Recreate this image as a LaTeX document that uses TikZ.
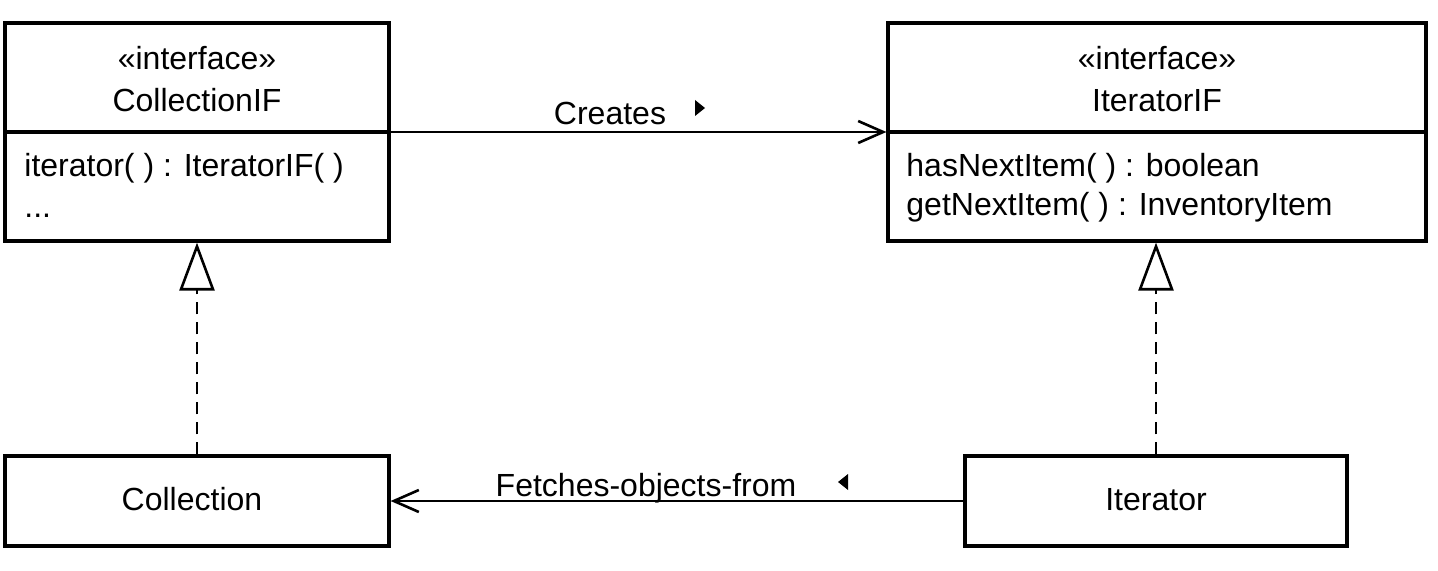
\documentclass[tikz,border=0pt]{standalone}
\usepackage{fontspec}
\setmainfont{Liberation Sans}
\usetikzlibrary{arrows.meta}
\begin{document}
\begin{tikzpicture}[x=0.5pt,y=-0.5pt,
  box/.style={draw, line width=1.6pt, inner sep=0pt},
  txt/.style={inner sep=0pt, anchor=base, font=\fontsize{16}{19}\selectfont},
  ltxt/.style={txt, anchor=base west},
  conn/.style={line width=1.3pt},
  assoc/.style={conn, -{Straight Barb[length=12.5pt,width=11pt,line width=1.3pt]}},
  realize/.style={conn, dash pattern=on 6pt off 4pt, -{Triangle[open,length=24pt,width=17.5pt,line width=1.3pt]}}]
\useasboundingbox (0,0) rectangle (1438,571);
% boxes
\node[box, minimum width=192pt, minimum height=109pt] (cif) at (197,132) {};
\node[box, minimum width=269pt, minimum height=109pt] (iif) at (1157,132) {};
\node[box, minimum width=192pt, minimum height=45pt] (col) at (197,501) {};
\node[box, minimum width=191pt, minimum height=45pt] (it) at (1156,501) {};
\draw[line width=1.6pt] (cif.west) -- (cif.east);
\draw[line width=1.6pt] (iif.west) -- (iif.east);
% texts
\node[txt] (cifs) at (197,70) {«interface»};
\node[txt] (cifn) at (197,112) {CollectionIF};
\node[ltxt] (cifo1) at (24,177) {iterator( ) : IteratorIF( )};
\node[ltxt] (cifo2) at (24,218) {...};
\node[txt] (iifs) at (1157,70) {«interface»};
\node[txt] (iifn) at (1157,112) {IteratorIF};
\node[ltxt] (iifo1) at (906,177) {hasNextItem( ) : boolean};
\node[ltxt] (iifo2) at (906,216) {getNextItem( ) : InventoryItem};
\node[txt] (coln) at (192,510) {Collection};
\node[txt] (itn) at (1156,510) {Iterator};
% connectors
\draw[assoc] (cif.east) -- (iif.west);
\draw[assoc] (it.west) -- (col.east);
\draw[realize] (col.north) -- (cif.south);
\draw[realize] (it.north) -- (it.north |- iif.south);
% labels
\node[txt] (lcr) at (610,125) {Creates};
\node[txt] (lfe) at (646,496) {Fetches-objects-from};
\coordinate (m1) at (700,108);
\coordinate (m2) at (843,482);
\fill (m1) ++(-5,-8) -- ++(10,8) -- ++(-10,8) -- cycle;
\fill (m2) ++(5,-8) -- ++(-10,8) -- ++(10,8) -- cycle;
\end{tikzpicture}
\end{document}
